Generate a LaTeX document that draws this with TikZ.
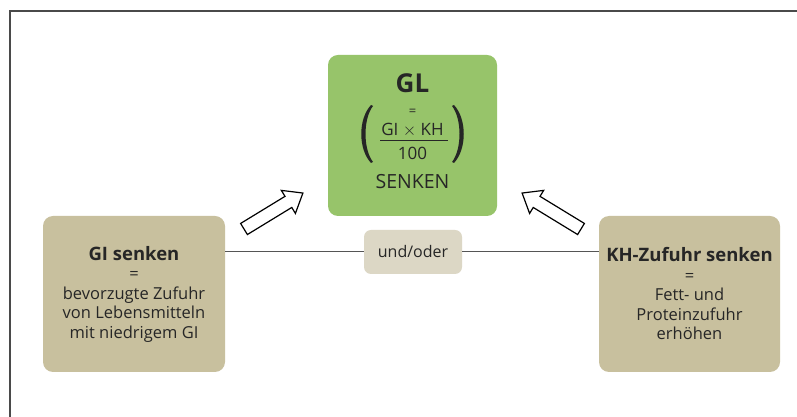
\documentclass[tikz,border=0pt]{standalone}
\usepackage{fontspec}
\setmainfont{Open Sans}
\definecolor{glgreen}{HTML}{97C46A}
\definecolor{tanbox}{HTML}{C8C09E}
\definecolor{tanlight}{HTML}{DCD7C5}
\definecolor{ink}{HTML}{262626}
\definecolor{framegray}{HTML}{4A4A4A}
\definecolor{linegray}{HTML}{555555}
\begin{document}
\begin{tikzpicture}[x=1pt,y=1pt,
  bigbox/.style={rounded corners=10pt, inner sep=0pt, text=ink, align=center},
  txt/.style={inner sep=0pt, text=ink},
  blockarrow/.style={draw=black, fill=white, line width=1.2pt, line join=miter}]
\useasboundingbox (0,0) rectangle (797,417);
\fill[white] (0,0) rectangle (797,417);
\draw[framegray, line width=1.6pt] (10,-5) -- (10,406) -- (805,406);

% green box
\node[bigbox, fill=glgreen, minimum width=169pt, minimum height=161pt] (gl) at (412.5,281.5) {};
\node[txt, font=\bfseries\fontsize{26}{28}\selectfont] (gltitle) at (412.5,334) {GL};
\node[txt, font=\fontsize{13}{15}\selectfont] (gleq) at (412.5,304.5) {=};
\node[txt, font=\fontsize{17}{19}\selectfont] (glnum) at (412.5,287) {GI $\times$ KH};
\node[txt, font=\fontsize{17}{19}\selectfont] (glden) at (412.5,263.5) {100};
\draw[ink, line width=0.9pt] (380,277) -- (448,277);
\node[txt, font=\fontsize{19.5}{22}\selectfont] (glsenken) at (412.5,235) {SENKEN};
% parentheses
\fill[ink] (371,312) .. controls (358,298) and (358,268) .. (371,254)
  -- (373,255) .. controls (363,268) and (363,298) .. (373,311) -- cycle;
\fill[ink] (454,312) .. controls (467,298) and (467,268) .. (454,254)
  -- (452,255) .. controls (462,268) and (462,298) .. (452,311) -- cycle;

% left box
\node[bigbox, fill=tanbox, minimum width=182pt, minimum height=156pt,
  font=\fontsize{16.5}{19.5}\selectfont] (left) at (134,123)
  {{\bfseries\fontsize{18.5}{22}\selectfont GI senken}\\[0pt]
   =\\ bevorzugte Zufuhr\\ von Lebensmitteln\\ mit niedrigem GI};

% right box
\node[bigbox, fill=tanbox, minimum width=181pt, minimum height=156pt,
  font=\fontsize{16.5}{19.5}\selectfont] (right) at (689.5,123)
  {{\bfseries\fontsize{18.5}{22}\selectfont KH-Zufuhr senken}\\[0pt]
   =\\ Fett- und\\ Proteinzufuhr\\ erhöhen};

% und/oder
\node[rounded corners=7pt, fill=tanlight, minimum width=98pt, minimum height=44pt,
  inner sep=0pt, text=ink, font=\fontsize{16}{18}\selectfont] (und) at (413,165) {und/oder};

\draw[linegray, line width=1pt] (left.east |- und.west) -- (und.west);
\draw[linegray, line width=1pt] (und.east) -- (right.west |- und.east);

% block arrows
\coordinate (ltail) at (244,188);
\coordinate (rtail) at (581,188);
\begin{scope}[shift={(ltail)}, rotate=31.4]
  \draw[blockarrow] (0,-6.5) -- (52,-6.5) -- (52,-13.5) -- (69,0) -- (52,13.5) -- (52,6.5) -- (0,6.5) -- cycle;
\end{scope}
\begin{scope}[shift={(rtail)}, rotate=148.6]
  \draw[blockarrow] (0,-6.5) -- (52,-6.5) -- (52,-13.5) -- (69,0) -- (52,13.5) -- (52,6.5) -- (0,6.5) -- cycle;
\end{scope}
\end{tikzpicture}
\end{document}
